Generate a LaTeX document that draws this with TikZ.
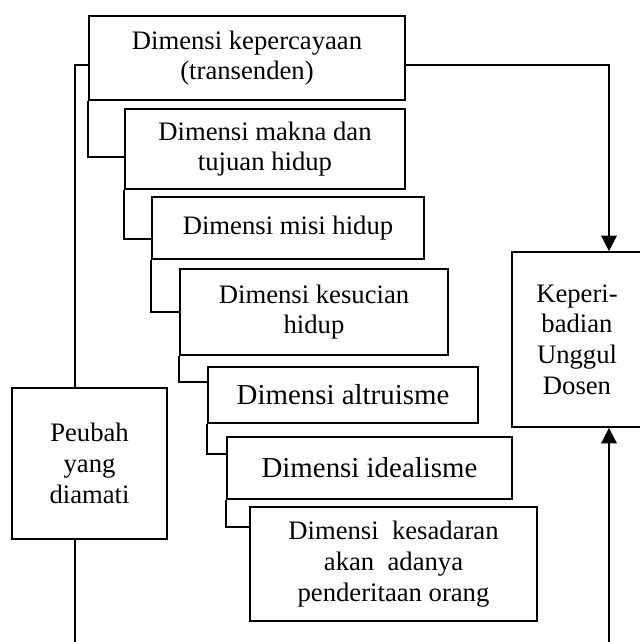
\documentclass[tikz,border=0pt]{standalone}
\usepackage{fontspec}
\setmainfont{Liberation Serif}
\usetikzlibrary{arrows.meta}
\tikzset{
  kotak/.style={draw, line width=0.8pt, align=center, inner sep=0pt, font=\fontsize{12}{13.8}\selectfont},
  besar/.style={font=\fontsize{13}{15}\selectfont},
  ukuran/.style 2 args={minimum width=#1*0.45pt, minimum height=#2*0.45pt},
  garis/.style={line width=0.8pt},
  panah/.style={garis, -{Triangle[width=7pt,length=7pt]}}
}
\begin{document}
\begin{tikzpicture}[x=0.45pt, y=-0.45pt]
\useasboundingbox (0,0) rectangle (640,642);
\path
(247,58) node[kotak, ukuran={316}{84}] (kep) {Dimensi kepercayaan\\(transenden)};
\path
(265,149) node[kotak, ukuran={280}{80}] (makna) {Dimensi makna dan\\tujuan hidup};
\path
(288,228) node[kotak, ukuran={272}{62}] (misi) {Dimensi misi hidup};
\path
(314,312) node[kotak, ukuran={268}{86}] (suci) {Dimensi kesucian\\hidup};
\path
(343,395) node[kotak, besar, ukuran={270}{56}] (altru) {Dimensi altruisme};
\path
(369.5,468) node[kotak, besar, ukuran={285}{62}] (ideal) {Dimensi idealisme};
\path
(393.5,564) node[kotak, ukuran={287}{114}] (sadar) {Dimensi\ \ kesadaran\\akan\ \ adanya\\penderitaan orang};
\path
(89.5,463.5) node[kotak, ukuran={155}{151}] (peubah) {Peubah\\yang\\diamati};
\path
(577,339.5) node[kotak, ukuran={130}{175}] (dosen) {Keperi-\\badian\\Unggul\\Dosen};
\coordinate (kiri) at (75,65);
\coordinate (kiribawah) at (75,642);
\coordinate (kanan) at (609,65);
\coordinate (kananbawah) at (609,642);
\draw[garis] (kep.west |- kiri) -- (kiri) -- (kiri |- peubah.north);
\draw[garis] (kiri |- peubah.south) -- (kiribawah);
\draw[panah] (kep.east |- kanan) -- (kanan) -- (kanan |- dosen.north);
\draw[panah] (kananbawah) -- (kananbawah |- dosen.south);
\foreach \a/\b/\y in {kep/makna/157, makna/misi/239, misi/suci/312, suci/altru/382, altru/ideal/454, ideal/sadar/527}{
  \coordinate (belok) at (0,\y);
  \draw[garis] (\a.south west) |- (\b.west |- belok);
}
\end{tikzpicture}
\end{document}
